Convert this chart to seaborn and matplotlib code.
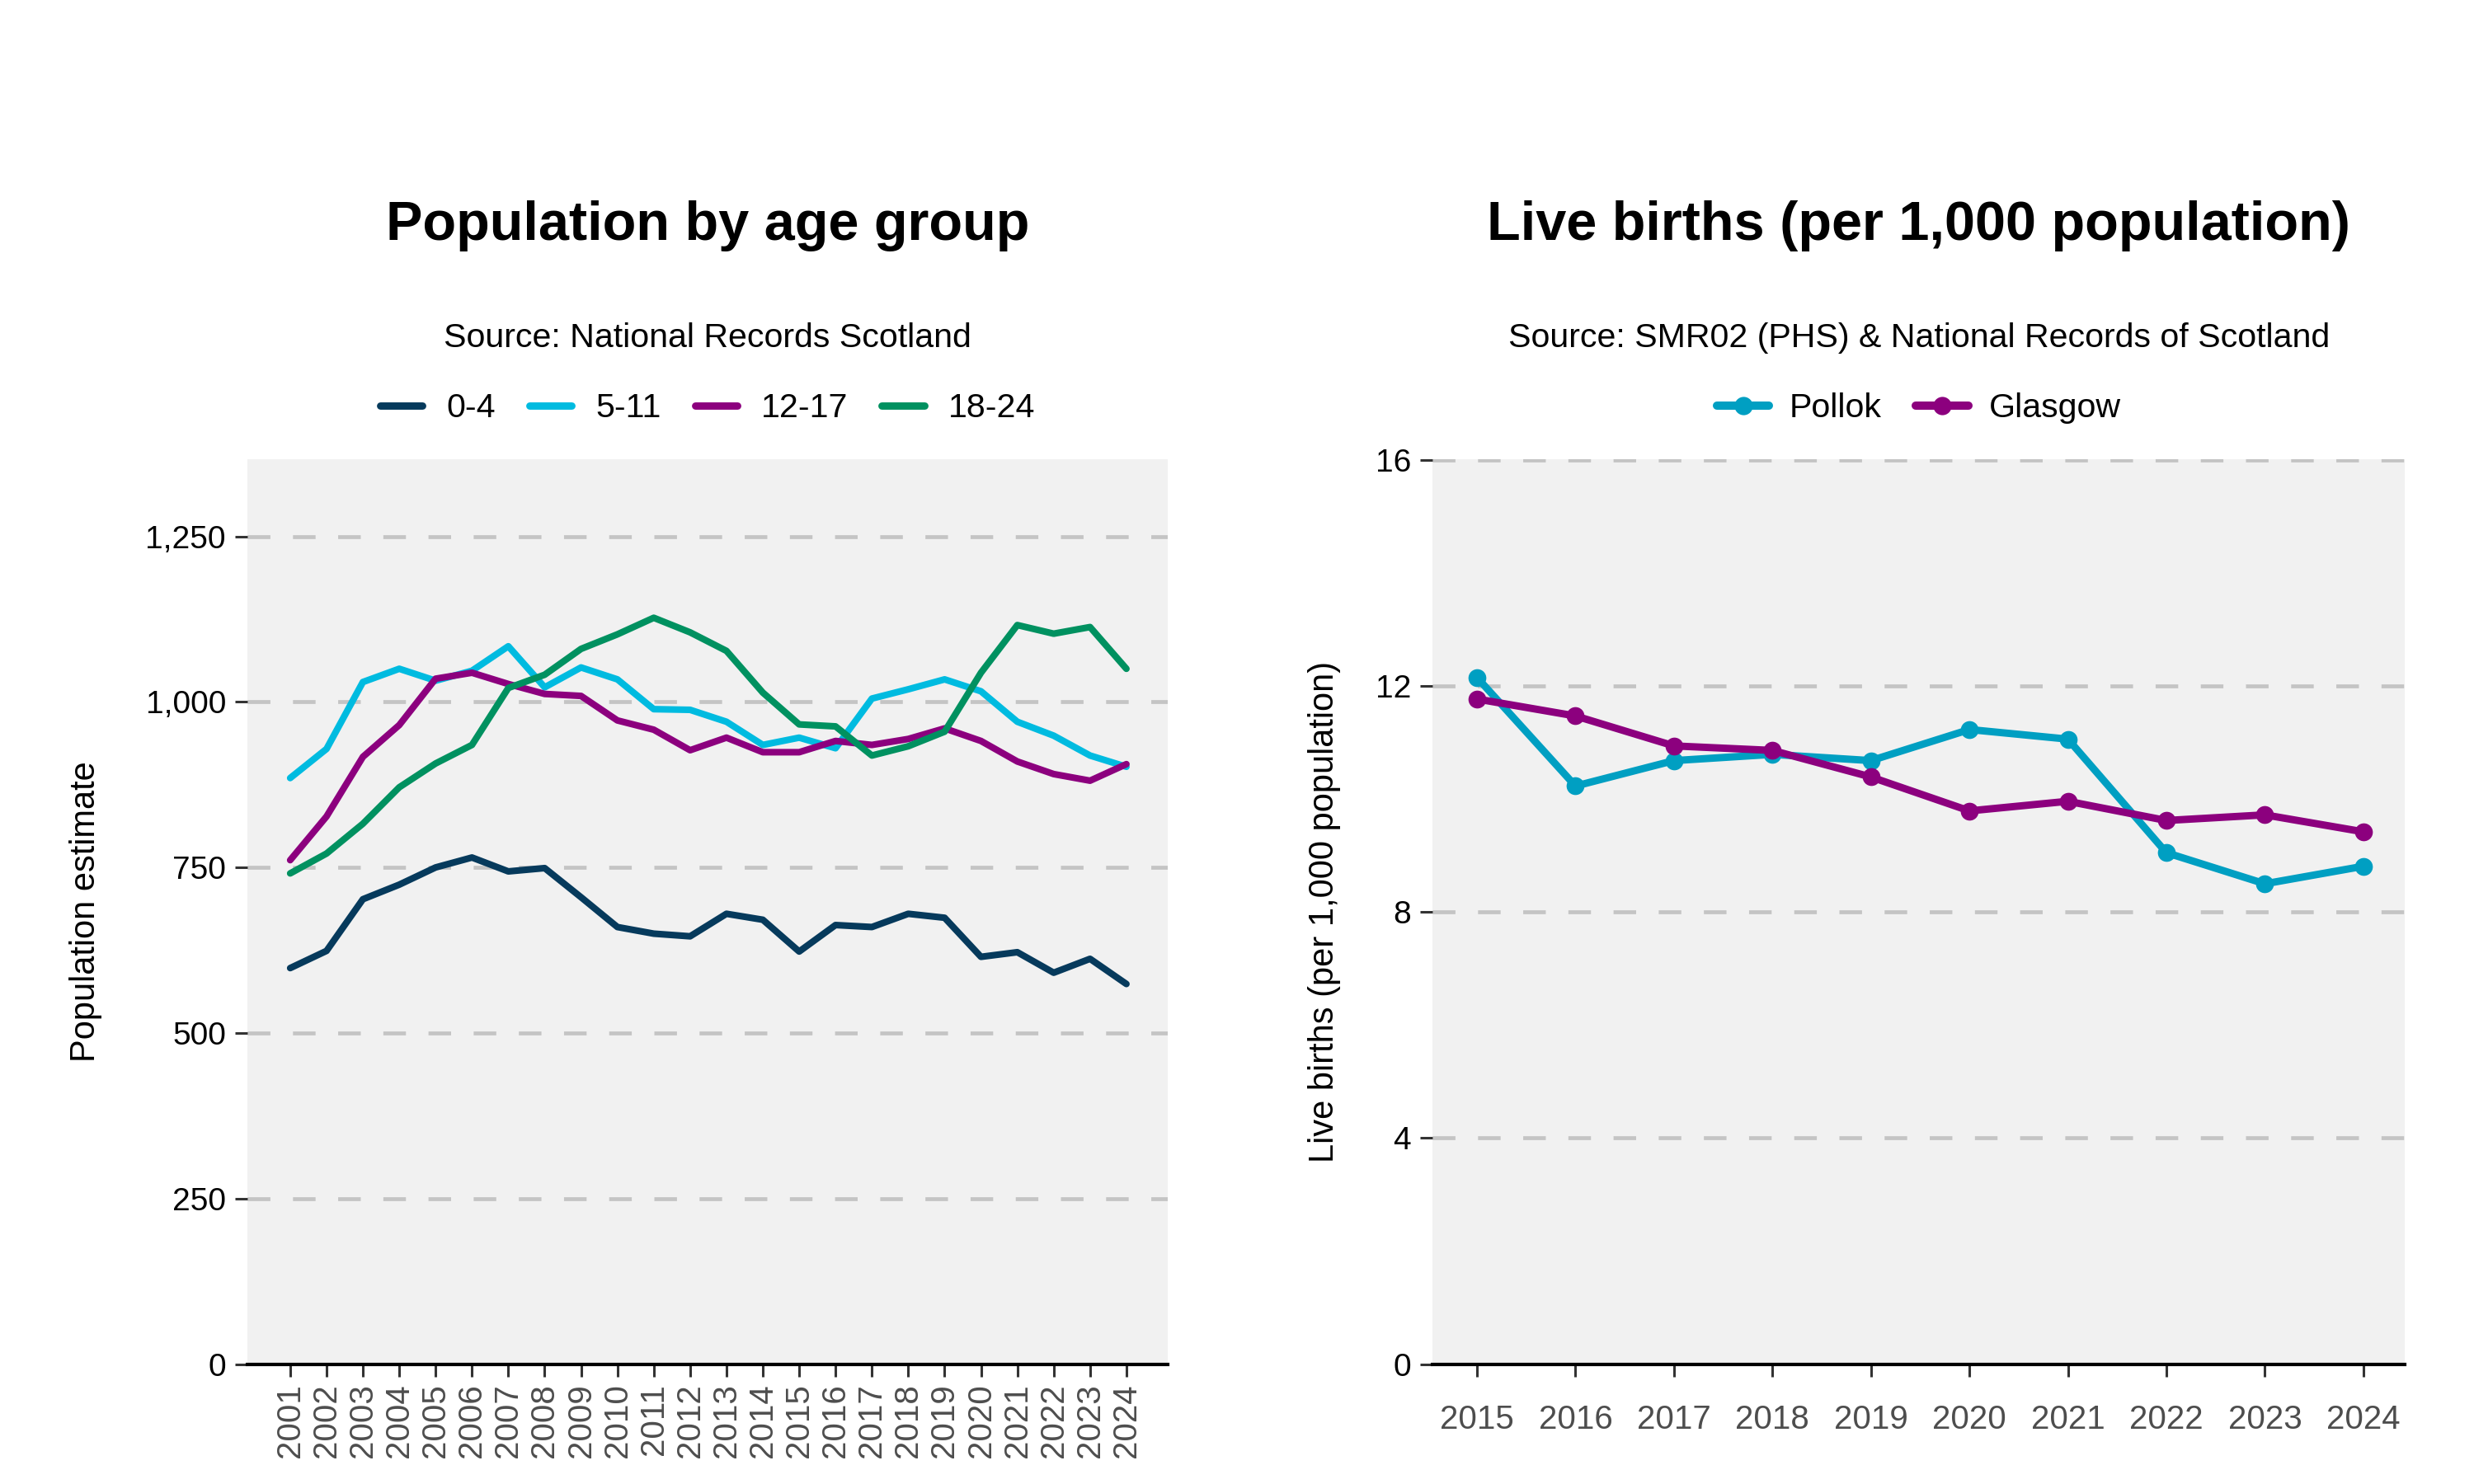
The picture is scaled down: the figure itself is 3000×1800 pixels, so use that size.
import matplotlib
matplotlib.use("Agg")
import matplotlib.pyplot as plt
import seaborn as sns
import pandas as pd
from matplotlib.ticker import FuncFormatter
from matplotlib.lines import Line2D

# ---------------- data ----------------
years_pop = list(range(2001, 2025))
age_groups = ["0-4", "5-11", "12-17", "18-24"]
pop_0_4 = [598, 624, 702, 724, 750, 765, 744, 749, 705, 660, 650, 646, 680, 671,
           623, 663, 660, 680, 674, 615, 622, 591, 612, 574]
pop_5_11 = [885, 929, 1030, 1050, 1032, 1047, 1084, 1022, 1052, 1034, 989, 988, 970, 935,
            946, 930, 1005, 1019, 1034, 1016, 970, 949, 919, 902]
pop_12_17 = [761, 827, 917, 965, 1035, 1044, 1027, 1012, 1009, 972, 958, 927, 946, 924,
             924, 941, 935, 944, 960, 941, 910, 891, 881, 906]
pop_18_24 = [741, 771, 816, 871, 907, 935, 1021, 1041, 1080, 1102, 1127, 1105, 1077, 1014,
             966, 963, 919, 933, 955, 1044, 1116, 1103, 1113, 1050]

years_births = list(range(2015, 2025))
areas = ["Pollok", "Glasgow"]
births_pollok = [12.15, 10.23, 10.68, 10.79, 10.68, 11.23, 11.06, 9.05, 8.50, 8.81]
births_glasgow = [11.77, 11.47, 10.94, 10.86, 10.39, 9.79, 9.96, 9.62, 9.72, 9.42]

pop_colors = ["#063a5c", "#00bbe0", "#8c007e", "#009160"]
birth_colors = ["#009fc2", "#8c007e"]

# ---------------- styling ----------------
sns.set_theme(style="white")
FONT = ["Liberation Sans", "DejaVu Sans"]
plt.rcParams["font.family"] = FONT
plt.rcParams["text.color"] = "black"
plt.rcParams["axes.labelcolor"] = "black"

fig = plt.figure(figsize=(15, 9), dpi=200)
ax1 = fig.add_axes([0.1001, 0.0808, 0.3718, 0.61])
ax2 = fig.add_axes([0.5791, 0.0808, 0.3929, 0.61])

panel_bg = "#f1f1f1"
grid_kw = dict(color="#c4c4c4", lw=1.7, linestyle=(0, (5.8, 5.8)), zorder=0.5)

# ---------------- left chart ----------------
pop_df = pd.DataFrame({
    "year": years_pop * 4,
    "value": pop_0_4 + pop_5_11 + pop_12_17 + pop_18_24,
    "group": sum([[g] * len(years_pop) for g in age_groups], []),
})
sns.lineplot(data=pop_df, x="year", y="value", hue="group", hue_order=age_groups,
             palette=pop_colors, lw=2.9, ax=ax1, legend=False, sort=False, zorder=3)

ax1.set_facecolor(panel_bg)
ax1.set_xlim(2001 - 1.17, 2024 + 1.13)
ax1.set_ylim(0, 1367)
yt1 = [0, 250, 500, 750, 1000, 1250]
ax1.set_yticks(yt1)
for v in yt1:
    ax1.axhline(v, **grid_kw)
ax1.yaxis.set_major_formatter(FuncFormatter(lambda v, p: f"{int(v):,}"))
ax1.set_xticks(years_pop)
ax1.set_xticklabels([str(y) for y in years_pop], rotation=90)
ax1.set_xlabel("")
ax1.set_ylabel("Population estimate", fontsize=15, labelpad=19)

# ---------------- right chart ----------------
birth_df = pd.DataFrame({
    "year": years_births * 2,
    "value": births_pollok + births_glasgow,
    "area": ["Pollok"] * len(years_births) + ["Glasgow"] * len(years_births),
})
sns.lineplot(data=birth_df, x="year", y="value", hue="area", hue_order=areas,
             palette=birth_colors, lw=3.2, marker="o", markersize=7.8,
             markeredgewidth=0, ax=ax2, legend=False, sort=False, zorder=3)

ax2.set_facecolor(panel_bg)
ax2.set_xlim(2015 - 0.45, 2024 + 0.42)
ax2.set_ylim(0, 16.02)
yt2 = [0, 4, 8, 12, 16]
ax2.set_yticks(yt2)
for v in yt2:
    ax2.axhline(v, **grid_kw)
ax2.set_xticks(years_births)
ax2.set_xticklabels([str(y) for y in years_births])
ax2.set_xlabel("")
ax2.set_ylabel("Live births (per 1,000 population)", fontsize=15, labelpad=15)

for ax in (ax1, ax2):
    for s in ("top", "right", "left"):
        ax.spines[s].set_visible(False)
    ax.spines["bottom"].set_color("black")
    ax.spines["bottom"].set_linewidth(1.5)
    ax.spines["bottom"].set_zorder(4)
    ax.tick_params(axis="y", length=5.5, width=1.1, color="#333333",
                   labelsize=14, labelcolor="black", pad=4, left=True)
    ax.tick_params(axis="x", length=5.5, width=1.1, color="#333333",
                   labelsize=14.5, labelcolor="#4d4d4d", bottom=True)
    ax.grid(False)
ax1.tick_params(axis="x", pad=3)
ax2.tick_params(axis="x", pad=12)

# ---------------- titles / legends ----------------
cx1 = 0.1001 + 0.3718 / 2
cx2 = 0.5791 + 0.3929 / 2
fig.text(cx1, 0.848, "Population by age group", ha="center", va="center",
         fontsize=24, fontweight="bold", color="black")
fig.text(cx2, 0.848, "Live births (per 1,000 population)", ha="center", va="center",
         fontsize=24, fontweight="bold", color="black")
fig.text(cx1, 0.772, "Source: National Records Scotland", ha="center", va="center",
         fontsize=14.8, color="black")
fig.text(cx2, 0.772, "Source: SMR02 (PHS) & National Records of Scotland",
         ha="center", va="center", fontsize=14.8, color="black")

h1 = [Line2D([], [], color=c, lw=3.2) for c in pop_colors]
fig.legend(h1, age_groups, loc="center", bbox_to_anchor=(cx1, 0.725), ncol=4,
           frameon=False, fontsize=14.8, handlelength=1.25, handletextpad=0.7,
           columnspacing=1.0)
h2 = [Line2D([], [], color=c, lw=3.6, marker="o", markersize=8, markeredgewidth=0)
      for c in birth_colors]
fig.legend(h2, areas, loc="center", bbox_to_anchor=(cx2, 0.725), ncol=2,
           frameon=False, fontsize=14.8, handlelength=1.55, handletextpad=0.6,
           columnspacing=1.0)

fig.savefig("out.png", dpi=200)
